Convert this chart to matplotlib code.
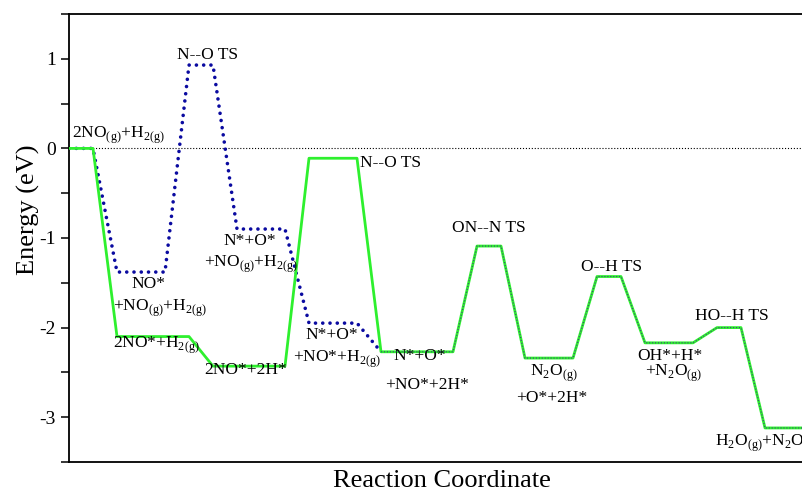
import matplotlib
matplotlib.use('Agg')
import matplotlib.pyplot as plt
from matplotlib.ticker import MultipleLocator

plt.rcParams['font.family'] = ['Liberation Serif', 'DejaVu Serif']
plt.rcParams['mathtext.fontset'] = 'custom'
plt.rcParams['mathtext.rm'] = 'Liberation Serif'
plt.rcParams['axes.unicode_minus'] = False

# reaction coordinate steps and energies (eV)
green_x = [0, 1, 2, 5, 6, 9, 10, 12, 13, 16, 17, 18, 19, 21, 22, 23, 24, 26, 27, 28, 29, 31]
green_e = [0, 0, -2.10, -2.10, -2.43, -2.43, -0.11, -0.11, -2.27, -2.27, -1.09, -1.09,
           -2.34, -2.34, -1.43, -1.43, -2.17, -2.17, -2.00, -2.00, -3.12, -3.12]

blue_x = [0, 1, 2, 4, 5, 6, 7, 9, 10, 12, 13, 16, 17, 18, 19, 21, 22, 23, 24, 26, 27, 28, 29, 31]
blue_e = [0, 0, -1.38, -1.38, 0.93, 0.93, -0.90, -0.90, -1.95, -1.95, -2.27, -2.27, -1.09, -1.09,
          -2.34, -2.34, -1.43, -1.43, -2.17, -2.17, -2.00, -2.00, -3.12, -3.12]
shared = 10  # blue path joins green from this index on

labels = [
    (r'2NO$_{\rm (g)}$+H$_{\rm 2(g)}$', 0.12, 0.12, 'left'),
    ('N--O TS', 5.77, 1.0, 'center'),
    ('NO*', 3.33, -1.556, 'center'),
    (r'+NO$_{\rm (g)}$+H$_{\rm 2(g)}$', 1.83, -1.82, 'left'),
    (r'2NO*+H$_{\rm 2(g)}$', 1.83, -2.23, 'left'),
    ('2NO*+2H*', 7.38, -2.52, 'center'),
    ('N*+O*', 7.54, -1.08, 'center'),
    (r'+NO$_{\rm (g)}$+H$_{\rm 2(g)}$', 5.62, -1.32, 'left'),
    ('N--O TS', 12.13, -0.21, 'left'),
    ('N*+O*', 10.96, -2.13, 'center'),
    (r'+NO*+H$_{\rm 2(g)}$', 9.33, -2.38, 'left'),
    ('ON--N TS', 17.5, -0.93, 'center'),
    ('N*+O*', 14.6, -2.36, 'center'),
    ('+NO*+2H*', 14.9, -2.69, 'center'),
    (r'N$_{\rm 2}$O$_{\rm (g)}$', 20.2, -2.54, 'center'),
    ('+O*+2H*', 20.1, -2.83, 'center'),
    ('O--H TS', 22.6, -1.37, 'center'),
    ('OH*+H*', 25.05, -2.36, 'center'),
    (r'+N$_{\rm 2}$O$_{\rm (g)}$', 25.2, -2.54, 'center'),
    ('HO--H TS', 27.6, -1.92, 'center'),
    (r'H$_{\rm 2}$O$_{\rm (g)}$+N$_{\rm 2}$O$_{\rm (g)}$', 26.9, -3.32, 'left'),
]

fig = plt.figure(figsize=(8.02, 4.95), dpi=100)
ax = fig.add_axes([69 / 802, 33 / 495, 744 / 802, 448 / 495])

ax.axhline(0, color='black', lw=0.8, ls=':', zorder=1)
ax.plot(blue_x[:shared + 1], blue_e[:shared + 1], color='#0a0aa0', lw=2.6,
        dashes=(0.01, 2.0), dash_capstyle='round', zorder=2)
ax.plot(green_x, green_e, color='#2ef02e', lw=2.0, zorder=3)
ax.plot(blue_x[shared:], blue_e[shared:], color='#404080', lw=0.8, ls=':', zorder=4)

for txt, x, y, ha in labels:
    ax.text(x, y, txt, ha=ha, va='baseline', fontsize=12.5)

ax.set_xlim(0, 31)
ax.set_ylim(-3.5, 1.5)
ax.set_xticks([])
ax.yaxis.set_major_locator(MultipleLocator(1))
ax.yaxis.set_minor_locator(MultipleLocator(0.5))
ax.tick_params(axis='y', which='both', direction='out', length=6, width=1.1, labelsize=14)
for s in ax.spines.values():
    s.set_linewidth(1.3)

ax.set_ylabel('Energy (eV)', fontsize=19)
ax.yaxis.set_label_coords(-0.039, 0.5625)
ax.set_xlabel('Reaction Coordinate', fontsize=19)
ax.xaxis.set_label_coords(0.501, -0.018)
ax.xaxis.label.set_va('top')

fig.savefig('out.png', dpi=100)
